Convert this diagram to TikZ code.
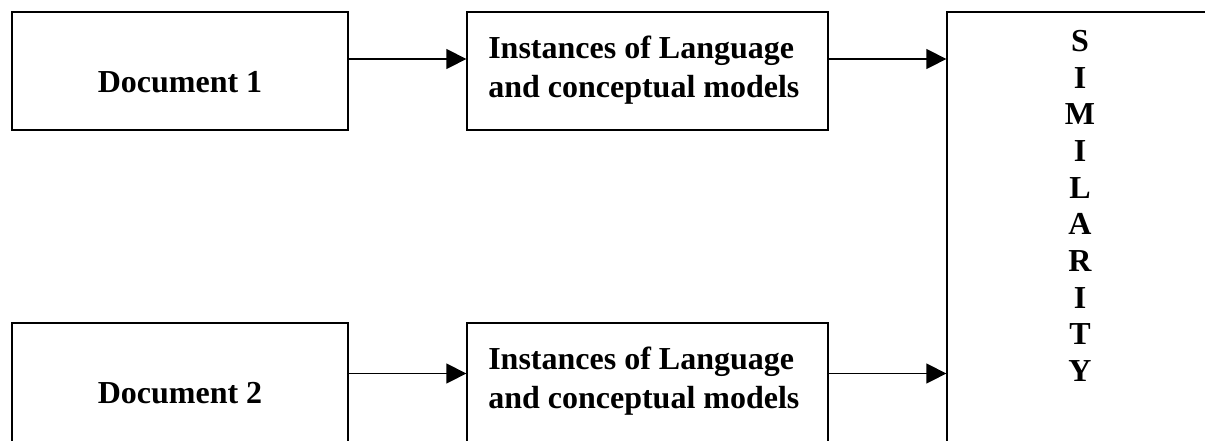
\documentclass[tikz,border=0pt]{standalone}
\usepackage{fontspec}
\setmainfont{Liberation Serif}
\usetikzlibrary{fit,arrows.meta,calc}
\begin{document}
\begin{tikzpicture}[x=0.75pt,y=-0.75pt,
  box/.style={draw=black,line width=1pt,inner sep=0pt,fill=none},
  txt/.style={inner sep=0pt,font=\fontsize{24}{29.25}\selectfont\bfseries},
  arr/.style={draw=black,line width=1.1pt,-{Triangle[length=15pt,width=15pt]}}]
\useasboundingbox (0,0) rectangle (1205,440);
\clip (0,0) rectangle (1205,440);
\node[box,fit={(12,12) (348,130)}] (doc1) {};
\node[box,fit={(12,323) (348,450)}] (doc2) {};
\node[box,fit={(467,12) (828,130)}] (inst1) {};
\node[box,fit={(467,323) (828,450)}] (inst2) {};
\node[box,fit={(947,12) (1215,450)}] (sim) {};
\node[txt] (t1) at (180,82) {Document 1};
\node[txt] (t2) at (180,393) {Document 2};
\node[txt,anchor=north west,align=left] (ti1) at (488,36) {Instances of Language\\and conceptual models};
\node[txt,anchor=north west,align=left] (ti2) at (488,347) {Instances of Language\\and conceptual models};
\node[txt,anchor=north,align=center,font=\fontsize{24}{27.5}\selectfont\bfseries] (ts) at (1080,30) {S\\I\\M\\I\\L\\A\\R\\I\\T\\Y};
\coordinate (a1) at ([yshift=9pt]doc1.east);
\coordinate (b1) at ([yshift=9pt]inst1.east);
\coordinate (a2) at ([yshift=9.75pt]doc2.east);
\coordinate (b2) at ([yshift=9.75pt]inst2.east);
\draw[arr] (a1) -- (a1 -| inst1.west);
\draw[arr] (b1) -- (b1 -| sim.west);
\draw[arr] (a2) -- (a2 -| inst2.west);
\draw[arr] (b2) -- (b2 -| sim.west);
\end{tikzpicture}
\end{document}
